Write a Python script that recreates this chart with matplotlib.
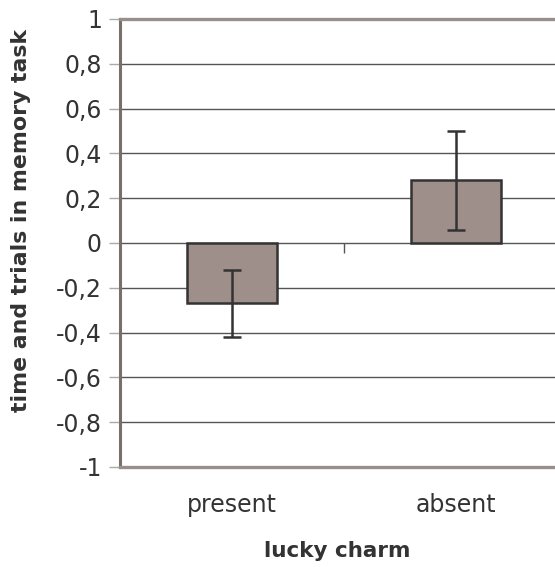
import matplotlib.pyplot as plt

# values
categories = ['present', 'absent']
means = [-0.27, 0.28]
err_low = [-0.42, 0.06]
err_high = [-0.12, 0.50]
yticks = [-1, -0.8, -0.6, -0.4, -0.2, 0, 0.2, 0.4, 0.6, 0.8, 1]

plt.rcParams['font.family'] = ['DejaVu Sans']

fig = plt.figure(figsize=(5.55, 5.67), dpi=100)
ax = fig.add_axes([0.2162, 0.1764, 0.7838, 0.7901])

x = list(range(len(categories)))
yerr = [[m - lo for m, lo in zip(means, err_low)],
        [hi - m for m, hi in zip(means, err_high)]]

ax.bar(x, means, width=0.4, color='#9e8f8b', edgecolor='#333333',
       linewidth=1.8, zorder=3)
ax.errorbar(x, means, yerr=yerr, fmt='none', ecolor='#333333',
            elinewidth=1.8, capsize=6.5, capthick=1.8, zorder=4)

ax.set_xlim(-0.5, 1.442)
ax.set_ylim(-1, 1)
ax.set_yticks(yticks)
ax.set_yticklabels([('%g' % v).replace('.', ',') for v in yticks])
ax.yaxis.grid(True, color='#555555', linewidth=1.0, zorder=0)
ax.set_axisbelow(True)

ax.set_xticks(x)
ax.set_xticklabels(categories)
ax.tick_params(axis='x', length=0, pad=19, labelsize=17, labelcolor='#333333')
ax.tick_params(axis='y', direction='out', length=8, width=1, color='#aaaaaa',
               pad=5, labelsize=17, labelcolor='#333333')

for side in ['top', 'bottom']:
    ax.spines[side].set_color('#9a8e8a')
    ax.spines[side].set_linewidth(2.4)
ax.spines['left'].set_color('#7a6e6a')
ax.spines['left'].set_linewidth(2.2)
ax.spines['right'].set_visible(False)

# category separator tick on the zero line
sec = ax.secondary_xaxis(0.5)
sec.set_xticks([0.5])
sec.set_xticklabels([])
sec.tick_params(direction='in', length=7, width=1, color='#555555')
sec.spines['bottom'].set_visible(False)
sec.spines['top'].set_visible(False)

ax.set_xlabel('lucky charm', fontsize=15.5, fontweight='bold',
              color='#333333', labelpad=17)
ax.set_ylabel('time and trials in memory task', fontsize=15.8,
              fontweight='bold', color='#333333')
ax.yaxis.set_label_coords(-0.205, 0.551)

fig.savefig('out.png', dpi=100)
